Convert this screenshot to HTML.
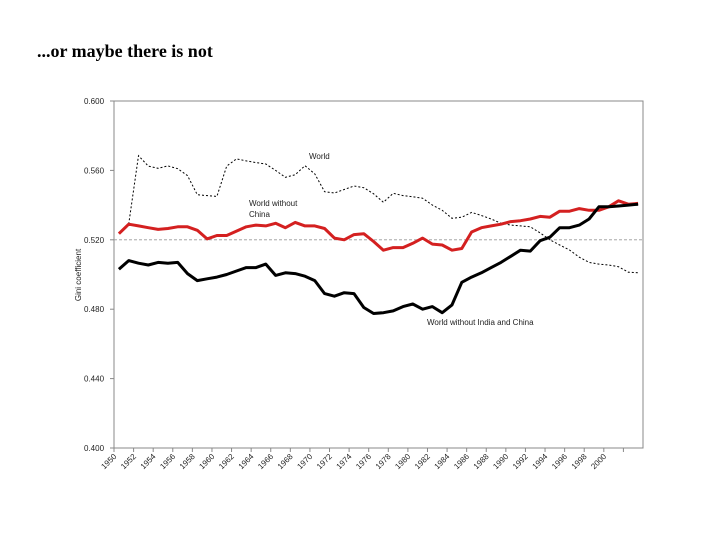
<!DOCTYPE html>
<html><head><meta charset="utf-8"><style>
body{margin:0;background:#fff;width:720px;height:540px;overflow:hidden}
svg{display:block}
</style></head><body>
<svg id="chart" width="720" height="540" xmlns="http://www.w3.org/2000/svg">
<text x="37" y="57" font-family="Liberation Serif, serif" font-weight="bold" font-size="18" fill="#000">...or maybe there is not</text>
<rect x="114" y="101" width="529" height="347" fill="none" stroke="#888" stroke-width="1"/>
<text transform="translate(81,275) rotate(-90)" text-anchor="middle" font-family="Liberation Sans, sans-serif" font-size="8" fill="#222">Gini coefficient</text>
<text x="309" y="159" font-family="Liberation Sans, sans-serif" font-size="8" fill="#222">World</text>
<text x="249" y="206" font-family="Liberation Sans, sans-serif" font-size="8" fill="#222"><tspan x="249">World without</tspan><tspan x="249" dy="11">China</tspan></text>
<text x="427" y="325" font-family="Liberation Sans, sans-serif" font-size="8" fill="#222">World without India and China</text>
<g id="axes"></g>
<g id="series"></g>
</svg>
<script>
const years = [];
for (let y = 1950; y <= 2003; y++) years.push(y);
const yTicks = [0.400, 0.440, 0.480, 0.520, 0.560, 0.600];
const worldNoChina = [.5235,.529,.528,.527,.526,.5265,.5275,.5275,.5255,.5205,.5225,.5225,.525,.5275,.5285,.528,.5295,.527,.530,.528,.528,.5265,.521,.520,.523,.5235,.519,.514,.5155,.5155,.518,.521,.5175,.517,.514,.515,.5245,.527,.528,.529,.5305,.531,.532,.5335,.533,.5365,.5365,.538,.537,.537,.539,.5425,.5405,.541];
const worldNoIndiaChina = [.503,.508,.5065,.5055,.507,.5065,.507,.5005,.4965,.4975,.4985,.500,.502,.504,.504,.506,.4995,.501,.5005,.499,.4965,.489,.4875,.4895,.489,.481,.4775,.478,.479,.4815,.483,.480,.4815,.478,.4825,.4955,.4985,.501,.504,.507,.5105,.514,.5135,.5195,.5215,.527,.527,.5285,.532,.539,.539,.5395,.540,.5405];
const world = [null,.529,.5685,.5625,.5612,.5626,.561,.557,.546,.5455,.545,.5625,.5666,.5655,.5645,.5637,.560,.556,.5575,.5627,.558,.5477,.547,.549,.551,.550,.5465,.5416,.5468,.5455,.5448,.544,.540,.537,.5324,.533,.5358,.534,.532,.5295,.5285,.528,.5275,.524,.520,.517,.5141,.510,.507,.506,.5055,.5045,.5013,.501];
const refLine = 0.520;

const NS = "http://www.w3.org/2000/svg";
const L = 114, R = 643, T = 101, B = 448;
const cw = (R - L) / years.length;
const xs = i => L + cw * (i + 0.5);
const ys = v => B - (v - 0.4) / 0.2 * (B - T);
const axes = document.getElementById('axes');
const series = document.getElementById('series');
function mk(tag, attrs, parent) {
  const e = document.createElementNS(NS, tag);
  for (const k in attrs) e.setAttribute(k, attrs[k]);
  parent.appendChild(e);
  return e;
}
yTicks.forEach(v => {
  const t = mk('line', {x1: L - 4, x2: L, y1: ys(v), y2: ys(v), stroke: '#888'}, axes);
  
  
  const tx = mk('text', {x: L - 30, y: ys(v) + 3, 'font-family': 'Liberation Sans, sans-serif', 'font-size': 8, fill: '#222'}, axes);
  tx.textContent = v.toFixed(3);
  
  
});
years.forEach((yr, i) => {
  if (i % 2) return;
  const x = L + cw * i;
  const t = mk('line', {x1: x, x2: x, y1: B, y2: B + 4, stroke: '#888'}, axes);
  
  
  if (yr > 2000) return;
  const tx = mk('text', {transform: `translate(${x + 3},${B + 9}) rotate(-45)`, 'text-anchor': 'end', 'font-family': 'Liberation Sans, sans-serif', 'font-size': 8, fill: '#222'}, axes);
  tx.textContent = yr;
  
  
});
const rl = mk('line', {x1: L, x2: R, y1: ys(refLine), y2: ys(refLine), stroke: '#999', 'stroke-width': 0.8, 'stroke-dasharray': '3,2'}, axes);


function path(arr) {
  let d = '', pen = false;
  arr.forEach((v, i) => {
    if (v == null) { pen = false; return; }
    d += (pen ? 'L' : 'M') + xs(i).toFixed(1) + ',' + ys(v).toFixed(1);
    pen = true;
  });
  return d;
}
const p1 = mk('path', {d: path(world), fill: 'none', stroke: '#000', 'stroke-width': 1, 'stroke-dasharray': '2,2'}, series);


const p2 = mk('path', {d: path(worldNoChina), fill: 'none', stroke: '#d42020', 'stroke-width': 3, 'stroke-linejoin': 'round'}, series);


const p3 = mk('path', {d: path(worldNoIndiaChina), fill: 'none', stroke: '#000', 'stroke-width': 3, 'stroke-linejoin': 'round'}, series);


</script>
</body></html>
